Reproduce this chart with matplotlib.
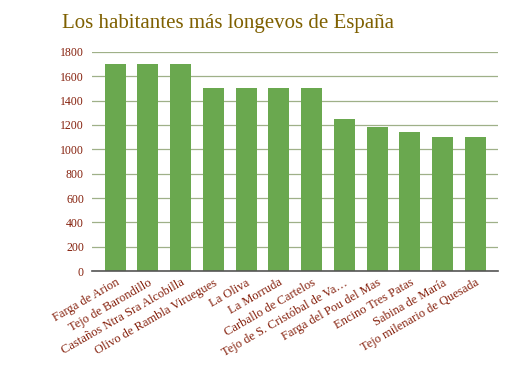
import matplotlib.pyplot as plt

plt.rcParams['font.family'] = ['Liberation Serif', 'DejaVu Serif']

names = ['Farga de Arion', 'Tejo de Barondillo', 'Castaños Ntra Sra Alcobilla',
         'Olivo de Rambla Viruegues', 'La Oliva', 'La Morruda', 'Carballo de Cartelos',
         'Tejo de S. Cristóbal de Va…', 'Farga del Pou del Mas', 'Encino Tres Patas',
         'Sabina de María', 'Tejo milenario de Quesada']
ages = [1700, 1700, 1700, 1500, 1500, 1500, 1500, 1250, 1180, 1140, 1100, 1100]
yticks = [0, 200, 400, 600, 800, 1000, 1200, 1400, 1600, 1800]

label_col = '#85200c'

fig = plt.figure(figsize=(5.3, 3.76), dpi=100)
ax = fig.add_axes([0.174, 0.279, 0.766, 0.583])

x = list(range(len(names)))
ax.bar(x, ages, width=0.64, color='#6aa84f', zorder=3)

ax.set_xlim(-0.7, len(names) - 0.3)
ax.set_ylim(0, 1800)
ax.set_yticks(yticks)
ax.yaxis.grid(True, color='#9fb088', linewidth=0.9, zorder=0)
ax.tick_params(axis='y', length=0, pad=6, labelsize=8.5, labelcolor=label_col)
ax.set_xticks(x)
ax.set_xticklabels(names, rotation=30, ha='right', rotation_mode='anchor',
                   fontsize=9, color=label_col)
ax.tick_params(axis='x', length=0, pad=4)

for s in ['top', 'right', 'left']:
    ax.spines[s].set_visible(False)
ax.spines['bottom'].set_color('#555555')
ax.spines['bottom'].set_linewidth(1.2)
ax.spines['bottom'].set_zorder(4)

fig.text(0.117, 0.938, 'Los habitantes más longevos de España', fontsize=15,
         color='#7f6000', ha='left', va='center')

plt.savefig('out.png', dpi=100)
